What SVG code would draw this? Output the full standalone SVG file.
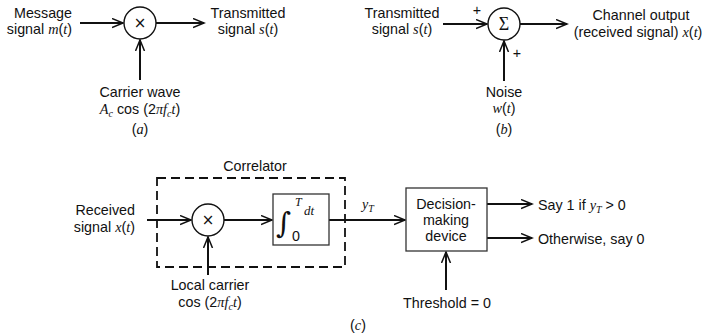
<svg xmlns="http://www.w3.org/2000/svg" width="713" height="335" viewBox="0 0 713 335">
<style>
.t{font-family:"Liberation Sans",Arial,sans-serif;font-size:14.3px;fill:#111}
.m{font-family:"Liberation Serif","Times New Roman",serif;font-style:italic}
.c{text-anchor:middle}
.e{text-anchor:end}
.ln{stroke:#111;stroke-width:2;fill:none}
.nd{stroke:#111;stroke-width:1.4;fill:#fff}
.bx{stroke:#333;stroke-width:1.3;fill:#fff}
.x{font-family:"DejaVu Sans",sans-serif;font-size:15px;fill:#111;text-anchor:middle}
</style>
<defs>
<marker id="ah" markerUnits="userSpaceOnUse" markerWidth="14" markerHeight="12" refX="11" refY="5" orient="auto">
<path d="M0,0.5 L11,5 L0,9.5" fill="none" stroke="#111" stroke-width="1.5"/>
</marker>
</defs>
<g id="connectors">
<line class="ln" x1="80" y1="23" x2="123" y2="23" marker-end="url(#ah)"/>
<line class="ln" x1="156" y1="23" x2="204" y2="23" marker-end="url(#ah)"/>
<line class="ln" x1="140" y1="80" x2="140" y2="40" marker-end="url(#ah)"/>
<line class="ln" x1="443" y1="24" x2="487" y2="24" marker-end="url(#ah)"/>
<line class="ln" x1="520" y1="24" x2="567" y2="24" marker-end="url(#ah)"/>
<line class="ln" x1="504" y1="81" x2="504" y2="41" marker-end="url(#ah)"/>
<line class="ln" x1="147" y1="220" x2="191" y2="220" marker-end="url(#ah)"/>
<line class="ln" x1="224" y1="220" x2="272" y2="220" marker-end="url(#ah)"/>
<line class="ln" x1="208" y1="275" x2="208" y2="237" marker-end="url(#ah)"/>
<line class="ln" x1="329" y1="220" x2="405" y2="220" marker-end="url(#ah)"/>
<line class="ln" x1="487" y1="204" x2="532" y2="204" marker-end="url(#ah)"/>
<line class="ln" x1="487" y1="238" x2="532" y2="238" marker-end="url(#ah)"/>
<line class="ln" x1="446" y1="290" x2="446" y2="252" marker-end="url(#ah)"/>
</g>
<g id="a-labels">
<text class="t e" x="72" y="18">Message</text>
<text class="t e" x="72" y="34">signal <tspan class="m">m</tspan>(<tspan class="m">t</tspan>)</text>
<text class="t c" x="248" y="18">Transmitted</text>
<text class="t c" x="248" y="34">signal <tspan class="m">s</tspan>(<tspan class="m">t</tspan>)</text>
<text class="t c" x="140" y="97">Carrier wave</text>
<text class="t c" x="140" y="114"><tspan class="m">A</tspan><tspan class="m" style="font-size:10px" dy="3">c</tspan><tspan dy="-3"> cos (2</tspan><tspan class="m">πf</tspan><tspan class="m" style="font-size:10px" dy="3">c</tspan><tspan class="m" dy="-3">t</tspan>)</text>
<text class="t c" x="140" y="134">(<tspan class="m">a</tspan>)</text>
</g>
<g id="mult-a">
<circle class="nd" cx="140" cy="23" r="16"/>
<text class="x" x="140" y="28">×</text>
</g>
<g id="b-labels">
<text class="t c" x="402" y="18">Transmitted</text>
<text class="t c" x="402" y="34">signal <tspan class="m">s</tspan>(<tspan class="m">t</tspan>)</text>
<text class="t c" x="477" y="15">+</text>
<text class="t c" x="517" y="58">+</text>
<text class="t c" x="641" y="20">Channel output</text>
<text class="t c" x="638" y="37">(received signal) <tspan class="m">x</tspan>(<tspan class="m">t</tspan>)</text>
<text class="t c" x="504" y="97">Noise</text>
<text class="t c" x="504" y="113"><tspan class="m">w</tspan>(<tspan class="m">t</tspan>)</text>
<text class="t c" x="504" y="134">(<tspan class="m">b</tspan>)</text>
</g>
<g id="sum-b">
<circle class="nd" cx="504" cy="24" r="16"/>
<text class="x" x="504" y="30" style="font-family:'Liberation Serif',serif;font-size:18px">Σ</text>
</g>
<g id="correlator">
<rect x="157" y="178" width="188" height="89" fill="none" stroke="#111" stroke-width="1.8" stroke-dasharray="9,5"/>
<text class="t c" x="255" y="171">Correlator</text>
</g>
<g id="c-labels">
<text class="t e" x="135" y="215">Received</text>
<text class="t e" x="135" y="232">signal <tspan class="m">x</tspan>(<tspan class="m">t</tspan>)</text>
<text class="t c" x="210" y="290">Local carrier</text>
<text class="t c" x="210" y="307">cos (2<tspan class="m">πf</tspan><tspan class="m" style="font-size:10px" dy="3">c</tspan><tspan class="m" dy="-3">t</tspan>)</text>
<text class="t m" x="362" y="209" style="font-size:14px">y<tspan style="font-size:10px" dy="3">T</tspan></text>
<text class="t" x="538" y="210">Say 1 if <tspan class="m">y</tspan><tspan class="m" style="font-size:10px" dy="3">T</tspan><tspan dy="-3"> &gt; 0</tspan></text>
<text class="t" x="538" y="244">Otherwise, say 0</text>
<text class="t c" x="447" y="308">Threshold = 0</text>
<text class="t c" x="358" y="330">(<tspan class="m">c</tspan>)</text>
</g>
<g id="mult-c">
<circle class="nd" cx="208" cy="220" r="16"/>
<text class="x" x="208" y="225">×</text>
</g>
<g id="integrator">
<rect class="bx" x="273" y="194" width="56" height="51"/>
<text x="276" y="233" style="font-family:'DejaVu Serif',serif;font-size:29px;font-style:italic;fill:#111">∫</text>
<text class="t" x="292" y="241">0</text>
<text class="m" x="295" y="206" style="font-size:12px;fill:#111">T</text>
<text class="m" x="304" y="215" style="font-size:13px;fill:#111">dt</text>
</g>
<g id="decision">
<rect class="bx" x="406" y="188" width="81" height="63"/>
<text class="t c" x="446" y="209">Decision-</text>
<text class="t c" x="446" y="225">making</text>
<text class="t c" x="446" y="241">device</text>
</g>
</svg>
